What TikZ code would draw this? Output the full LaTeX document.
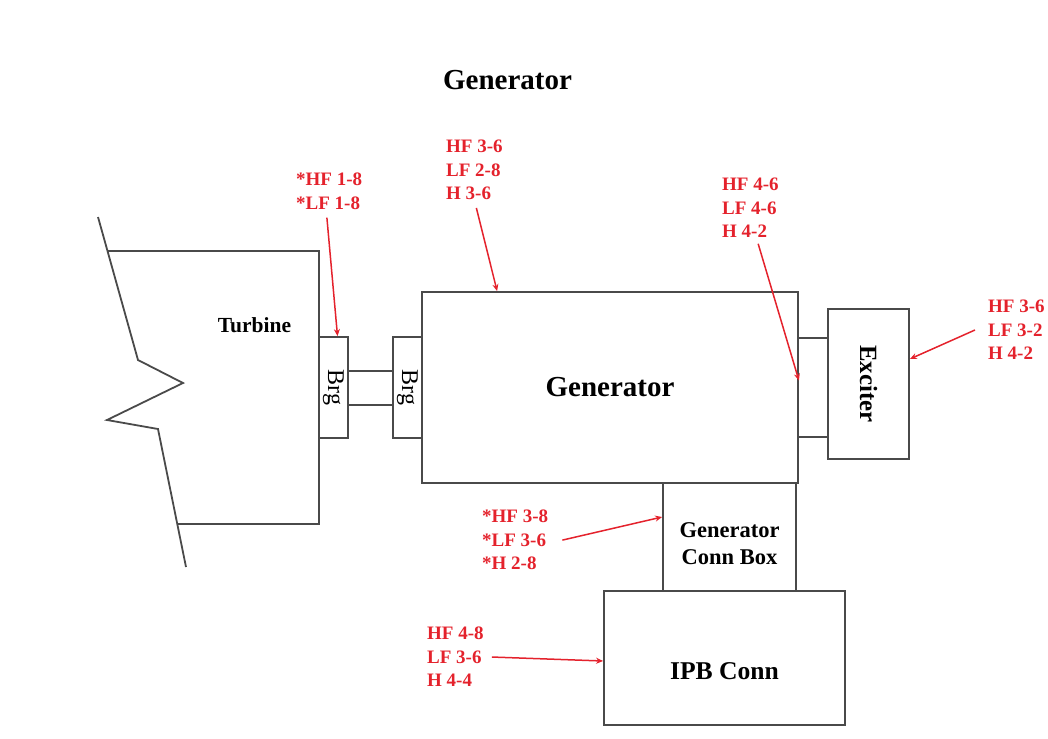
\documentclass[tikz,border=0pt]{standalone}
\usepackage{fontspec}
\setmainfont{Liberation Serif}
\usetikzlibrary{arrows.meta,positioning,calc}
\definecolor{ratingred}{HTML}{E4222C}
\definecolor{linegrey}{HTML}{4A4A4A}
\tikzset{
  part/.style={draw=linegrey, line width=1.8pt, fill=white, inner sep=0pt},
  shaft/.style={draw=linegrey, line width=1.8pt},
  rating/.style={text=ratingred, font=\fontsize{19}{23.5}\selectfont\bfseries,
                 align=left, inner sep=0pt, anchor=north west},
  pointer/.style={-{Stealth[length=7pt, width=6pt]}, line width=1.5pt, ratingred},
  vlabel/.style={rotate=-90, inner sep=0pt},
}

\begin{document}
\begin{tikzpicture}[x=1pt, y=-1pt]
  \useasboundingbox (0,0) rectangle (1048,738);
  \node[font=\fontsize{29}{35}\selectfont\bfseries, anchor=base] (title) at (507.5,90) {Generator};

  % turbine casing, broken off on the left
  \draw[shaft, line join=miter] (98,217) -- (138,360) -- (183,383) -- (107,420) -- (158,429) -- (186,567);
  \draw[shaft] (108,251) -- (319,251) -- (319,524) -- (178,524);
  \node[font=\fontsize{21.5}{26}\selectfont\bfseries, anchor=base] (turb) at (254.5,332) {Turbine};

  % bearings, shaft and machines
  \node[part, minimum width=29pt, minimum height=101pt,
        label={[vlabel, font=\fontsize{24}{28}\selectfont]center:Brg}] (brgL) at (333.5,387.5) {};
  \node[part, minimum width=29pt, minimum height=101pt,
        label={[vlabel, font=\fontsize{24}{28}\selectfont]center:Brg}] (brgR) at (407.5,387.5) {};
  \draw[shaft] ([yshift=16.5pt]brgL.east) -- ([yshift=16.5pt]brgR.west);
  \draw[shaft] ([yshift=-17.5pt]brgL.east) -- ([yshift=-17.5pt]brgR.west);
  \node[part, minimum width=376pt, minimum height=191pt,
        font=\fontsize{29}{35}\selectfont\bfseries] (gen) at (610,387.5) {Generator};
  \node[part, minimum width=81pt, minimum height=150pt,
        label={[vlabel, font=\fontsize{24.8}{29}\selectfont\bfseries]center:Exciter}] (exc) at (868.5,384) {};
  \draw[shaft] ([yshift=49.5pt]gen.east) -- ([yshift=49.5pt]gen.east -| exc.west);
  \draw[shaft] ([yshift=-49.5pt]gen.east) -- ([yshift=-49.5pt]gen.east -| exc.west);
  \node[part, minimum width=133pt, minimum height=108pt,
        label={[yshift=-7pt, align=center, font=\fontsize{22.5}{27}\selectfont\bfseries]center:{Generator\\Conn Box}}] (conn) at (729.5,537) {};
  \node[part, minimum width=241pt, minimum height=134pt,
        label={[yshift=-13pt, font=\fontsize{25.6}{30}\selectfont\bfseries]center:IPB Conn}] (ipb) at (724.5,658) {};

  % ratings
  \node[rating] (tagBrg) at (296,173) {*HF 1-8\\*LF 1-8};
  \node[rating] (tagGen) at (446,140) {HF 3-6\\LF 2-8\\H 3-6};
  \node[rating] (tagEnd) at (722,178) {HF 4-6\\LF 4-6\\H 4-2};
  \node[rating] (tagExc) at (988,300) {HF 3-6\\LF 3-2\\H 4-2};
  \node[rating] (tagConn) at (482,510) {*HF 3-8\\*LF 3-6\\*H 2-8};
  \node[rating] (tagIpb) at (427,627) {HF 4-8\\LF 3-6\\H 4-4};

  \draw[pointer, shorten <=8pt] ([xshift=-3pt]tagBrg.south) -- ([xshift=4pt]brgL.north);
  \draw[pointer, shorten <=8pt] (tagGen.south) -- ([xshift=76pt]gen.north west);
  \draw[pointer, shorten <=6pt] ([xshift=6pt]tagEnd.south) -- ([yshift=7pt]gen.east);
  \draw[pointer] ([xshift=-13pt]tagExc.west) -- ([yshift=25pt]exc.east);
  \draw[pointer] ([xshift=14pt]tagConn.east) -- ([yshift=20pt]conn.west);
  \draw[pointer] ([xshift=8pt]tagIpb.east) -- ([yshift=-3pt]ipb.west);
\end{tikzpicture}
\end{document}
